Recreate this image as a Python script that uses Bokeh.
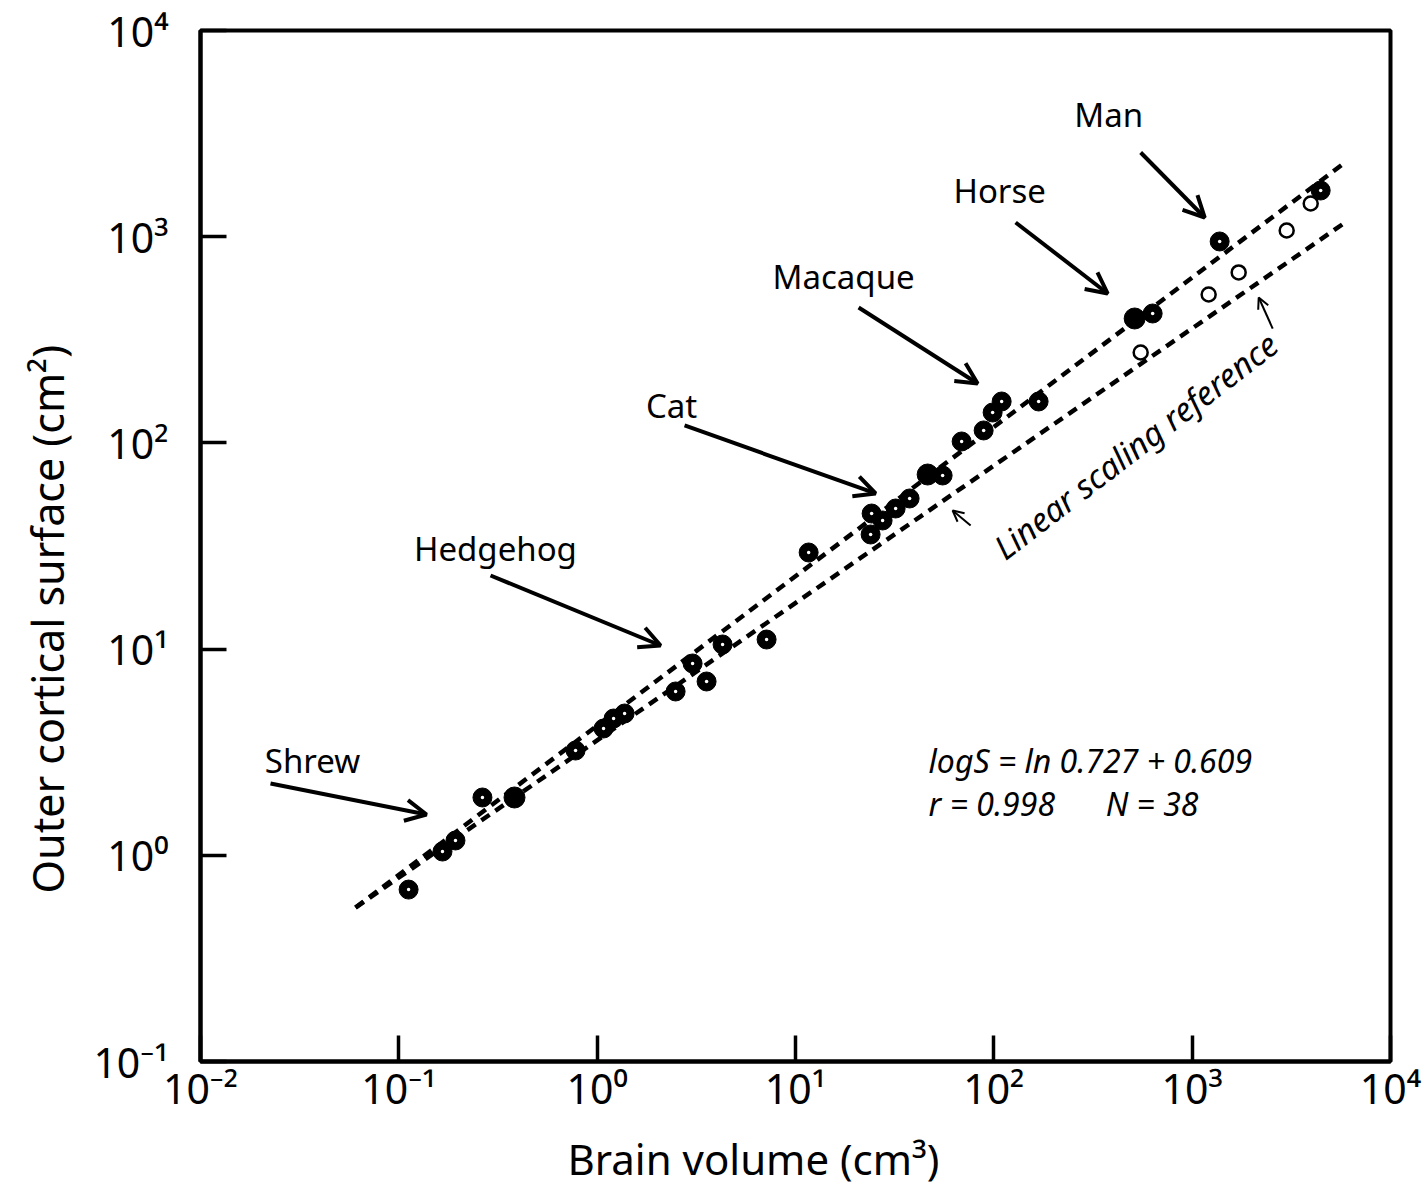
from bokeh.plotting import figure
from bokeh.models import Arrow, OpenHead, FixedTicker, Title
from bokeh.core.properties import value
from bokeh.embed import file_html
from bokeh.resources import INLINE

# ---------------- data ----------------
# brain volume (cm^3) / outer cortical surface (cm^2)
dot_vol = [0.112, 0.166, 0.193, 0.264, 0.778, 1.077, 1.21, 1.375, 2.486, 3.028,
           3.562, 4.289, 7.149, 11.65, 24.2, 23.92, 27.49, 31.98, 37.62, 55.19,
           68.81, 88.85, 98.6, 109.5, 168.2, 632.1, 1376, 4446]
dot_surf = [0.682, 1.043, 1.18, 1.907, 3.222, 4.12, 4.606, 4.871, 6.229, 8.516,
            6.965, 10.53, 11.13, 29.41, 45.45, 35.96, 42.05, 48.07, 53.76, 69.49,
            101.6, 114.9, 140.4, 158.8, 158.8, 424.2, 948, 1675]
solid_vol = [0.383, 46.37, 512.9]
solid_surf = [1.907, 70.26, 401.2]
open_vol = [550, 1211, 1716, 2996, 3960]
open_surf = [274.4, 524.5, 670.8, 1072, 1449]

fit_vol = [0.0605, 5808]
fit_surf = [0.558, 2265]
ref_vol = [0.0605, 5808]
ref_surf = [0.558, 1159]

ticks = [0.01, 0.1, 1, 10, 100, 1000, 10000]
tick_labels = ["10⁻²", "10⁻¹", "10⁰", "10¹", "10²", "10³", "10⁴"]

animals = ["Shrew", "Hedgehog", "Cat", "Macaque", "Horse", "Man"]
label_vol = [0.0367, 0.307, 2.373, 17.48, 107.0, 379.3]
label_surf = [2.882, 30.75, 151.9, 641.2, 1675, 3914]
arrow_vol0 = [0.02254, 0.29, 2.759, 20.81, 128.8, 550.0]
arrow_surf0 = [2.23, 22.75, 121.5, 453.6, 1172, 2561]
arrow_vol1 = [0.1379, 2.088, 25.35, 82.84, 374.9, 1157]
arrow_surf1 = [1.577, 10.41, 56.84, 194.2, 530.3, 1239]

stats_text = ["logS = ln 0.727 + 0.609", "r = 0.998", "N = 38"]
stats_vol = [46.9, 46.9, 366.3]
stats_surf = [2.882, 1.783, 1.783]

FONT = "Noto Sans"

p = figure(width=1427, height=1200, x_axis_type="log", y_axis_type="log",
           x_range=(0.01, 10000), y_range=(0.1, 10000),
           output_backend="svg", toolbar_location=None,
           min_border_left=200, min_border_right=37, min_border_top=30,
           min_border_bottom=139)
p.background_fill_color = "white"
p.border_fill_color = "white"
p.outline_line_color = "black"
p.outline_line_width = 4
p.xgrid.grid_line_color = None
p.ygrid.grid_line_color = None

overrides = {t: l for t, l in zip(ticks, tick_labels)}
for ax in (p.xaxis[0], p.yaxis[0]):
    ax.ticker = FixedTicker(ticks=ticks, minor_ticks=[])
    ax.major_label_overrides = overrides
    ax.axis_line_width = 4
    ax.major_tick_line_width = 3.5
    ax.major_tick_in = 26
    ax.major_tick_out = 0
    ax.minor_tick_line_color = None
    ax.major_label_text_font = FONT
    ax.major_label_text_font_size = "41px"
    ax.major_label_text_color = "black"

p.xaxis.major_label_standoff = -2
p.yaxis.major_label_standoff = 32

# axis titles (offset along the side, as in the original)
p.add_layout(Title(text="Brain volume (cm³)", align="left", offset=367, standoff=18,
                   text_font=FONT, text_font_size="42px", text_font_style="normal",
                   text_color="black"), "below")
p.add_layout(Title(text="Outer cortical surface (cm²)", align="left", offset=168, standoff=27,
                   text_font=FONT, text_font_size="43px", text_font_style="normal",
                   text_color="black"), "left")

# regression and linear-scaling lines
p.line(fit_vol, fit_surf, line_color="black", line_width=4.5, line_dash="10 7")
p.line(ref_vol, ref_surf, line_color="black", line_width=4.5, line_dash="10 7")

# data points
p.scatter(dot_vol, dot_surf, marker="circle", size=19, fill_color="black", line_color="black")
p.scatter(dot_vol, dot_surf, marker="circle", size=3.5, fill_color="white", line_color=None)
p.scatter(solid_vol, solid_surf, marker="circle", size=21, fill_color="black", line_color="black")
p.scatter(open_vol, open_surf, marker="circle", size=14, fill_color="white",
          line_color="black", line_width=2.5)

# annotations
for i in range(len(animals)):
    p.add_layout(Arrow(end=OpenHead(size=21, line_width=4, line_color="black"),
                       x_start=arrow_vol0[i], y_start=arrow_surf0[i],
                       x_end=arrow_vol1[i], y_end=arrow_surf1[i],
                       line_width=4, line_color="black"))
p.text(label_vol, label_surf, text=animals, text_font=value(FONT), text_font_size="33px",
       text_align="center", text_baseline="middle", text_color="black")

# thin arrows toward the linear scaling reference line
p.add_layout(Arrow(end=OpenHead(size=11, line_width=2, line_color="black"),
                   x_start=76.38, y_start=39.76, x_end=61.97, y_end=47.0,
                   line_width=2, line_color="black"))
p.add_layout(Arrow(end=OpenHead(size=11, line_width=2, line_color="black"),
                   x_start=2547, y_start=358.6, x_end=2165, y_end=507.2,
                   line_width=2, line_color="black"))
p.text([518.9], [97.1], text=["Linear scaling reference"], angle=0.655,
       text_font=value(FONT), text_font_size="33px", text_font_style="italic",
       text_align="center", text_baseline="middle", text_color="black")

# regression statistics
p.text(stats_vol, stats_surf, text=stats_text,
       text_font=value(FONT), text_font_size="32px", text_font_style="italic",
       text_align="left", text_baseline="middle", text_color="black")

open("out.html", "w").write(file_html(p, INLINE))
